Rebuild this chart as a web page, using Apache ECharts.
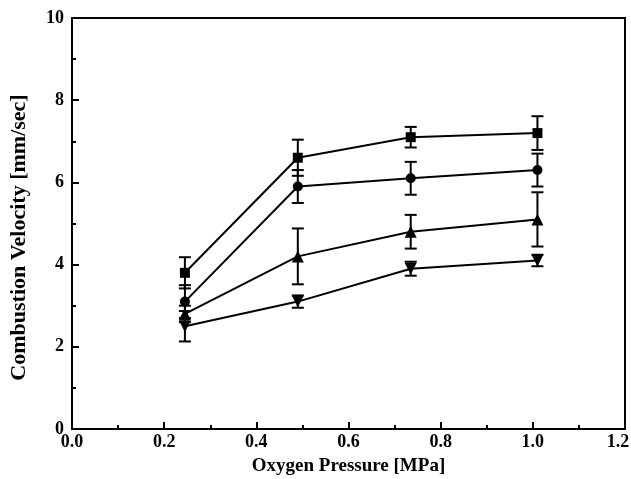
<!DOCTYPE html>
<html>
<head>
<meta charset="utf-8">
<script src="https://cdn.jsdelivr.net/npm/echarts@6/dist/echarts.min.js"></script>
<style>html,body{margin:0;padding:0;background:#fff}#c{width:631px;height:479px}</style>
</head>
<body>
<div id="c"></div>
<script>
var pressures = [0.245, 0.49, 0.735, 1.01];
var squareVals = [3.8, 6.6, 7.1, 7.2];
var squareErr = [0.38, 0.44, 0.25, 0.41];
var circleVals = [3.1, 5.9, 6.1, 6.3];
var circleErr = [0.4, 0.4, 0.4, 0.4];
var triUpVals = [2.8, 4.2, 4.8, 5.1];
var triUpErr = [0.2, 0.68, 0.41, 0.66];
var triDownVals = [2.5, 3.1, 3.9, 4.1];
var triDownErr = [0.37, 0.15, 0.17, 0.14];
var xTicks = ['0.0', '0.2', '0.4', '0.6', '0.8', '1.0', '1.2'];

var font = 'Liberation Serif';
var chart = echarts.init(document.getElementById('c'));

function pts(vals) { return pressures.map(function (p, i) { return [p, vals[i]]; }); }
function errData(vals, errs) { return pressures.map(function (p, i) { return [p, vals[i] - errs[i], vals[i] + errs[i]]; }); }

function errSeries(vals, errs) {
  return {
    type: 'custom',
    data: errData(vals, errs),
    z: 1,
    silent: true,
    renderItem: function (params, api) {
      var x = api.value(0);
      var lo = api.coord([x, api.value(1)]);
      var hi = api.coord([x, api.value(2)]);
      var hw = 6;
      var st = { stroke: '#000', lineWidth: 2 };
      return {
        type: 'group',
        children: [
          { type: 'line', shape: { x1: lo[0], y1: lo[1], x2: hi[0], y2: hi[1] }, style: st },
          { type: 'line', shape: { x1: lo[0] - hw, y1: lo[1], x2: lo[0] + hw, y2: lo[1] }, style: st },
          { type: 'line', shape: { x1: hi[0] - hw, y1: hi[1], x2: hi[0] + hw, y2: hi[1] }, style: st }
        ]
      };
    }
  };
}

function lineSeries(vals, symbol, size, rot) {
  return {
    type: 'line',
    data: pts(vals),
    symbol: symbol,
    symbolSize: size,
    symbolRotate: rot || 0,
    showAllSymbol: true,
    z: 3,
    lineStyle: { color: '#000', width: 2 },
    itemStyle: { color: '#000', borderWidth: 0 },
    emphasis: { disabled: true }
  };
}

var labelStyle = { fontFamily: font, fontWeight: 'bold', fontSize: 18, color: '#000' };

chart.setOption({
  animation: false,
  backgroundColor: '#fff',
  grid: { left: 72, right: 6, top: 18, bottom: 50, outerBoundsMode: 'none', containLabel: false,
    show: true, borderColor: '#000', borderWidth: 2, backgroundColor: 'transparent' },
  xAxis: {
    type: 'value', min: 0, max: 1.2, interval: 0.2,
    name: 'Oxygen Pressure [MPa]', nameLocation: 'middle', nameGap: 28,
    nameTextStyle: { fontFamily: font, fontWeight: 'bold', fontSize: 19, color: '#000' },
    axisLine: { show: true, onZero: false, lineStyle: { color: '#000', width: 2 } },
    axisTick: { show: true, inside: true, length: 7, lineStyle: { color: '#000', width: 2 } },
    minorTick: { show: true, splitNumber: 2, length: 4, lineStyle: { color: '#000', width: 2 } },
    splitLine: { show: false },
    axisLabel: Object.assign({}, labelStyle, { margin: 4,
      rich: { r: Object.assign({}, labelStyle, { padding: [0, 14, 0, 0] }) },
      formatter: function (v) {
        var i = Math.round(v / 0.2);
        return i === xTicks.length - 1 ? '{r|' + xTicks[i] + '}' : xTicks[i];
      } })
  },
  yAxis: {
    type: 'value', min: 0, max: 10, interval: 2,
    name: 'Combustion Velocity [mm/sec]', nameLocation: 'middle', nameGap: 42,
    nameTextStyle: { fontFamily: font, fontWeight: 'bold', fontSize: 22, color: '#000', padding: [0, 28, 0, 0] },
    axisLine: { show: true, onZero: false, lineStyle: { color: '#000', width: 2 } },
    axisTick: { show: true, inside: true, length: 7, lineStyle: { color: '#000', width: 2 } },
    minorTick: { show: true, splitNumber: 2, length: 4, lineStyle: { color: '#000', width: 2 } },
    splitLine: { show: false },
    axisLabel: Object.assign({}, labelStyle, { margin: 8 })
  },
  series: [
    errSeries(squareVals, squareErr),
    errSeries(circleVals, circleErr),
    errSeries(triUpVals, triUpErr),
    errSeries(triDownVals, triDownErr),
    lineSeries(squareVals, 'rect', 10),
    lineSeries(circleVals, 'circle', 10),
    lineSeries(triUpVals, 'triangle', 12),
    lineSeries(triDownVals, 'triangle', 12, 180)
  ]
});
</script>
</body>
</html>
